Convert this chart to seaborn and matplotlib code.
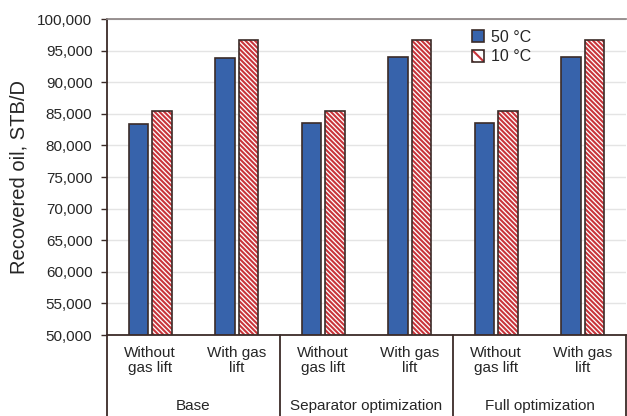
import pandas as pd
import matplotlib.pyplot as plt
import matplotlib.transforms as mtransforms
from matplotlib.patches import Patch, Rectangle
import seaborn as sns

# data
scenarios = ["Base", "Separator optimization", "Full optimization"]
lift_labels = ["Without\ngas lift", "With gas\nlift"]
temps = ["50 °C", "10 °C"]
oil_50 = [83400, 93900, 83600, 94000, 83600, 94000]
oil_10 = [85400, 96600, 85500, 96700, 85500, 96700]

blue = "#3763ab"
red = "#c8343a"
edge = "#3b2b28"

slots = [f"{s}|{l}" for s in scenarios for l in lift_labels]
df = pd.DataFrame({
    "slot": slots * 2,
    "temp": [temps[0]] * 6 + [temps[1]] * 6,
    "oil": oil_50 + oil_10,
})

sns.set_theme(style="white")
plt.rcParams['font.family'] = ['Liberation Sans', 'DejaVu Sans']
plt.rcParams['hatch.linewidth'] = 1.5

fig = plt.figure(figsize=(6.27, 4.16), dpi=100)
ax = fig.add_axes([0.1707, 0.1947, 0.8277, 0.7596])

sns.barplot(data=df, x="slot", y="oil", hue="temp", order=slots, hue_order=temps,
            palette=[blue, "white"], saturation=1, width=0.54, gap=0.17, ax=ax,
            edgecolor=edge, linewidth=1.2, legend=False)

# hatch the 10 °C bars in red, then redraw their dark outline
red_bars = ax.patches[6:12]
for b in red_bars:
    b.set_edgecolor(red)
    b.set_hatch("\\\\\\\\\\\\\\")
    b.set_linewidth(0)
    ax.add_patch(Rectangle(b.get_xy(), b.get_width(), b.get_height(), fill=False,
                           edgecolor=edge, linewidth=1.2, zorder=b.get_zorder() + 0.1))

ax.set_ylim(50000, 100000)
ax.set_xlim(-0.5, len(slots) - 0.5)
ax.set_yticks(range(50000, 100001, 5000))
ax.set_yticklabels([f"{v:,}" for v in range(50000, 100001, 5000)], fontsize=11)
ax.set_xticks(range(len(slots)))
ax.set_xticklabels(lift_labels * len(scenarios), fontsize=11, linespacing=1.05)
ax.tick_params(axis="x", length=0, pad=8)
ax.tick_params(axis="y", left=True, length=4.5, width=1, color=edge, pad=6)
ax.set_xlabel("")
ax.set_ylabel("Recovered oil, STB/D", fontsize=14.5, labelpad=6)

ax.yaxis.grid(True, color="#e4e4e4", linewidth=1)
ax.set_axisbelow(True)
ax.spines["right"].set_visible(False)
ax.spines["top"].set_color("#8c8484")
ax.spines["left"].set_color(edge)
ax.spines["bottom"].set_color(edge)
ax.spines["left"].set_linewidth(1.3)
ax.spines["bottom"].set_linewidth(1.3)

# group axis below the tick labels
trans = mtransforms.blended_transform_factory(ax.transData, ax.transAxes)
for xb in [-0.5, 1.5, 3.5, 5.5]:
    ax.plot([xb, xb], [0, -0.26], transform=trans, color=edge, lw=1.3, clip_on=False)
for i, s in enumerate(scenarios):
    ax.text(2 * i + 0.5, -0.225, s, transform=trans, ha="center", va="center", fontsize=11)

handles = [
    Patch(facecolor=blue, edgecolor=edge, linewidth=1.2),
    (Patch(facecolor="white", edgecolor=red, hatch="\\\\\\", linewidth=0),
     Patch(facecolor="none", edgecolor=edge, linewidth=1.2)),
]
ax.legend(handles, temps, loc="upper left", bbox_to_anchor=(0.675, 1.012), frameon=False,
          fontsize=11.5, handlelength=0.8, handleheight=0.8, handletextpad=0.4, labelspacing=0.3)

fig.savefig("out.png", dpi=100)
